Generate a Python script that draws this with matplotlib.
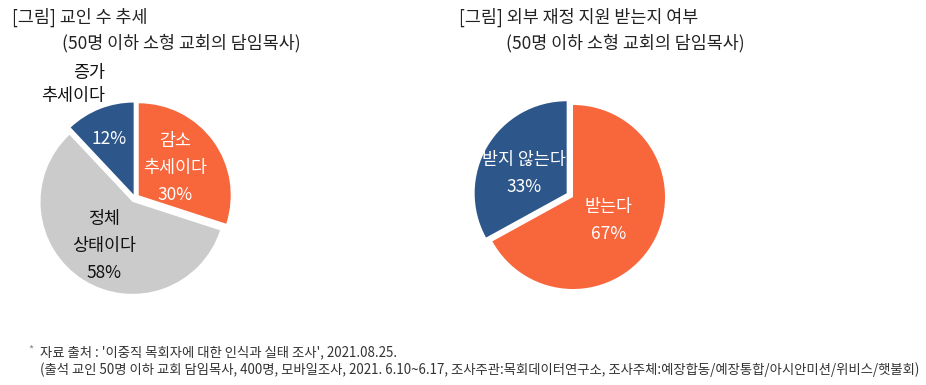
import matplotlib.pyplot as plt
import numpy as np

plt.rcParams['font.family'] = ['Noto Sans CJK KR', 'DejaVu Sans']

# 왼쪽: 교인 수 추세
trend_labels = ['증가\n추세이다', '정체\n상태이다', '감소\n추세이다']
trend_values = [12, 58, 30]
trend_colors = ['#2D568A', '#CBCBCB', '#F8663C']
trend_explode = [0.04, 0.05, 0.05]

# 오른쪽: 외부 재정 지원 여부
support_labels = ['받지 않는다', '받는다']
support_values = [33, 67]
support_colors = ['#2D568A', '#F8663C']
support_explode = [0.08, 0.0]

W, H = 926, 385
R = 95  # 파이 반지름(px)


def pie_axes(fig, cx, cy):
    half = 115
    ax = fig.add_axes([(cx - half) / W, (H - cy - half) / H, 2 * half / W, 2 * half / H])
    lim = half / R
    ax.set_xlim(-lim, lim)
    ax.set_ylim(-lim, lim)
    ax.set_aspect('equal')
    ax.axis('off')
    return ax


fig = plt.figure(figsize=(W / 100, H / 100), dpi=100)

# 왼쪽 파이
ax1 = pie_axes(fig, 135, 198)
ax1.pie(trend_values, colors=trend_colors, explode=trend_explode, startangle=90,
        counterclock=True, radius=1, wedgeprops=dict(linewidth=0))
ax1.text(-0.33, 1.23, trend_labels[0], ha='right', va='center', multialignment='right',
         fontsize=12.5, color='#111111', linespacing=1.35)
ax1.text(-0.28, 0.64, f'{trend_values[0]}%', ha='center', va='center', fontsize=12.5, color='white')
ax1.text(-0.34, -0.52, f'{trend_labels[1]}\n{trend_values[1]}%', ha='center', va='center',
         fontsize=12.5, color='#111111', linespacing=1.65)
ax1.text(0.44, 0.33, f'{trend_labels[2]}\n{trend_values[2]}%', ha='center', va='center',
         fontsize=12.5, color='white', linespacing=1.65)

# 오른쪽 파이
ax2 = pie_axes(fig, 573, 197)
ax2.pie(support_values, colors=support_colors, explode=support_explode, startangle=90,
        counterclock=True, radius=1, wedgeprops=dict(linewidth=0))
ax2.text(-0.53, 0.26, f'{support_labels[0]}\n{support_values[0]}%', ha='center', va='center',
         fontsize=12.5, color='white', linespacing=1.65)
ax2.text(0.39, -0.26, f'{support_labels[1]}\n{support_values[1]}%', ha='center', va='center',
         fontsize=12.5, color='white', linespacing=1.65)

# 제목
fig.text(12 / W, 1 - 17 / H, '[그림] 교인 수 추세', fontsize=12.5, color='#222222', va='center')
fig.text(62 / W, 1 - 43 / H, '(50명 이하 소형 교회의 담임목사)', fontsize=12.5, color='#222222', va='center')
fig.text(459 / W, 1 - 17 / H, '[그림] 외부 재정 지원 받는지 여부', fontsize=12.5, color='#222222', va='center')
fig.text(506 / W, 1 - 43 / H, '(50명 이하 소형 교회의 담임목사)', fontsize=12.5, color='#222222', va='center')

# 출처
fig.text(28 / W, 1 - 349 / H, '*', fontsize=8, color='#888888', va='center')
fig.text(40 / W, 1 - 352 / H, "자료 출처 : '이중직 목회자에 대한 인식과 실태 조사', 2021.08.25.",
         fontsize=9.6, color='#333333', va='center')
fig.text(40 / W, 1 - 370 / H, '(출석 교인 50명 이하 교회 담임목사, 400명, 모바일조사, 2021. 6.10~6.17, '
         '조사주관:목회데이터연구소, 조사주체:예장합동/예장통합/아시안미션/위비스/햇불회)',
         fontsize=9.6, color='#333333', va='center')

fig.savefig('out.png', dpi=100)
